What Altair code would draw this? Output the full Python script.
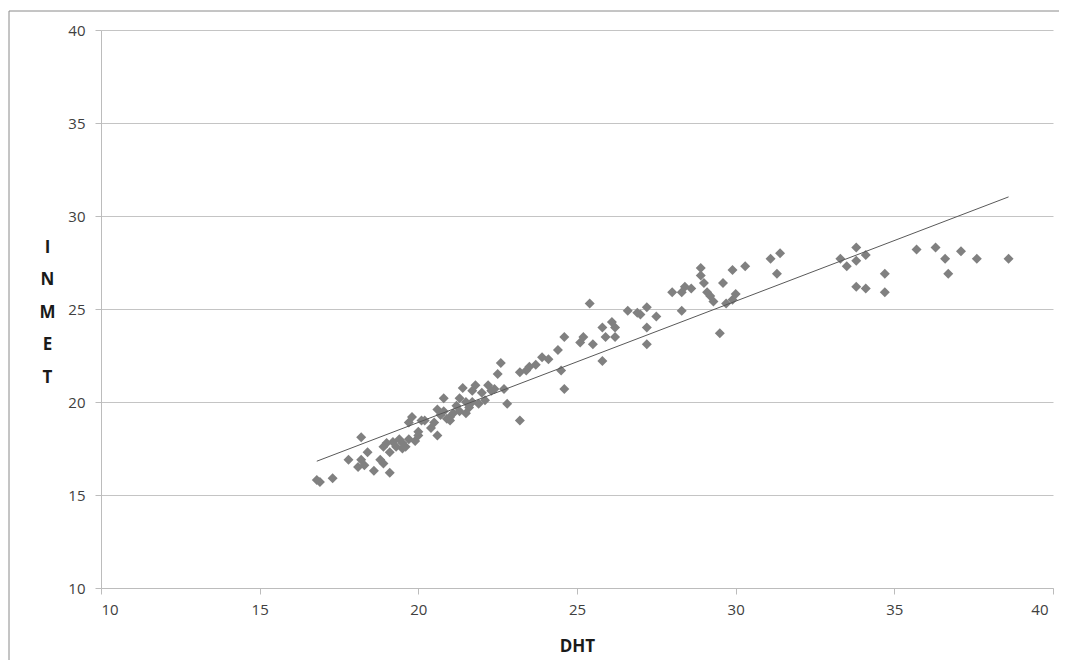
import altair as alt
import pandas as pd

# DHT (x) vs INMET (y) readings
dht = [16.8, 16.9, 17.3, 17.8, 18.1, 18.2, 18.2, 18.3, 18.4, 18.6, 18.8, 18.9, 18.9, 19.0, 19.1,
       19.1, 19.2, 19.3, 19.4, 19.5, 19.5, 19.6, 19.7, 19.7, 19.8, 19.9, 20.0, 20.0, 20.1, 20.2,
       20.4, 20.5, 20.6, 20.6, 20.7, 20.8, 20.8, 20.9, 21.0, 21.0, 21.1, 21.2, 21.3, 21.3, 21.4,
       21.5, 21.5, 21.6, 21.7, 21.7, 21.8, 21.9, 22.0, 22.1, 22.2, 22.3, 22.4, 22.5, 22.6, 22.7,
       22.8, 23.2, 23.2, 23.4, 23.5, 23.7, 23.9, 24.1, 24.4, 24.5, 24.6, 24.6, 25.1, 25.2, 25.4,
       25.5, 25.8, 25.8, 25.9, 26.1, 26.2, 26.2, 26.6, 26.9, 27.0, 27.2, 27.2, 27.2, 27.5, 28.0,
       28.3, 28.3, 28.4, 28.6, 28.9, 28.9, 29.0, 29.1, 29.2, 29.3, 29.5, 29.6, 29.7, 29.9, 29.9,
       30.0, 30.3, 31.1, 31.3, 31.4, 33.3, 33.5, 33.8, 33.8, 33.8, 34.1, 34.1, 34.7, 34.7, 35.7,
       36.3, 36.6, 36.7, 37.1, 37.6, 38.6]
inmet = [15.8, 15.7, 15.9, 16.9, 16.5, 16.9, 18.1, 16.6, 17.3, 16.3, 16.9, 17.6, 16.7, 17.8, 16.2,
         17.3, 17.85, 17.6, 18.0, 17.8, 17.5, 17.6, 18.0, 18.9, 19.2, 17.9, 18.2, 18.4, 19.0, 19.0,
         18.6, 18.9, 18.2, 19.6, 19.3, 19.5, 20.2, 19.1, 19.2, 19.0, 19.4, 19.8, 19.5, 20.2, 20.75,
         20.0, 19.4, 19.7, 20.6, 20.0, 20.9, 19.9, 20.5, 20.1, 20.9, 20.6, 20.7, 21.5, 22.1, 20.7,
         19.9, 19.0, 21.6, 21.7, 21.9, 22.0, 22.4, 22.3, 22.8, 21.7, 20.7, 23.5, 23.2, 23.5, 25.3,
         23.1, 24.0, 22.2, 23.5, 24.3, 24.0, 23.5, 24.9, 24.8, 24.7, 25.1, 24.0, 23.1, 24.6, 25.9,
         25.9, 24.9, 26.2, 26.1, 27.2, 26.8, 26.4, 25.9, 25.7, 25.4, 23.7, 26.4, 25.3, 27.1, 25.5,
         25.8, 27.3, 27.7, 26.9, 28.0, 27.7, 27.3, 28.3, 27.6, 26.2, 27.9, 26.1, 26.9, 25.9, 28.2,
         28.3, 27.7, 26.9, 28.1, 27.7, 27.7]

ticks = [10, 15, 20, 25, 30, 35, 40]

df = pd.DataFrame({"DHT": dht, "INMET": inmet})

W, H = 952, 558
PAD_L, PAD_T, PAD_R, PAD_B = 93, 22, 6, 72

base = alt.Chart(df)

points = base.mark_point(shape="diamond", filled=True, size=100, color="#808080",
                         opacity=1, strokeWidth=0).encode(
    x=alt.X("DHT:Q", scale=alt.Scale(domain=[10, 40], nice=False, zero=False),
            axis=alt.Axis(values=ticks, title="DHT", grid=False, titleY=58,
                          titleBaseline="middle",
                          labelOffset=alt.expr("datum.value == 40 ? -5 : 0"))),
    y=alt.Y("INMET:Q", scale=alt.Scale(domain=[10, 40], nice=False, zero=False),
            axis=alt.Axis(values=ticks, title=["I", "N", "M", "E", "T"], grid=True,
                          titleAngle=0, titleX=-54, titleY=217, titleAlign="center",
                          titleBaseline="middle", titleLineHeight=32.5)),
)

trend = base.transform_regression("DHT", "INMET").mark_line(
    color="#595959", strokeWidth=1
).encode(x="DHT:Q", y="INMET:Q")

frame = alt.Chart(pd.DataFrame({"f": [0]})).mark_rect(
    filled=False, stroke="#8a8a8a", strokeWidth=1, fillOpacity=0
).encode(
    x=alt.value(-92), x2=alt.value(1000), y=alt.value(-19), y2=alt.value(700)
)

chart = alt.layer(frame, points, trend).properties(
    width=W, height=H,
    padding={"left": PAD_L, "top": PAD_T, "right": PAD_R, "bottom": PAD_B},
    autosize=alt.AutoSizeParams(type="none"),
    title=alt.TitleParams("AP", font="Liberation Serif", fontSize=20, fontWeight="bold",
                          anchor="middle", frame="group", offset=19, baseline="alphabetic",
                          dx=-35, color="#000000"),
).configure_view(stroke=None).configure_axis(
    labelFont="Open Sans", labelFontSize=15, labelColor="#404040",
    titleFont="Open Sans", titleFontSize=17, titleFontWeight="bold", titleColor="#1a1a1a",
    domainColor="#bcbcbc", tickColor="#bcbcbc", gridColor="#c4c4c4",
    tickSize=6, labelPadding=10, domainWidth=1, gridWidth=1,
).configure_axisX(labelPadding=8).configure_axisY(labelPadding=10)

chart.save("out.html", embed_options={"renderer": "svg", "actions": False})
